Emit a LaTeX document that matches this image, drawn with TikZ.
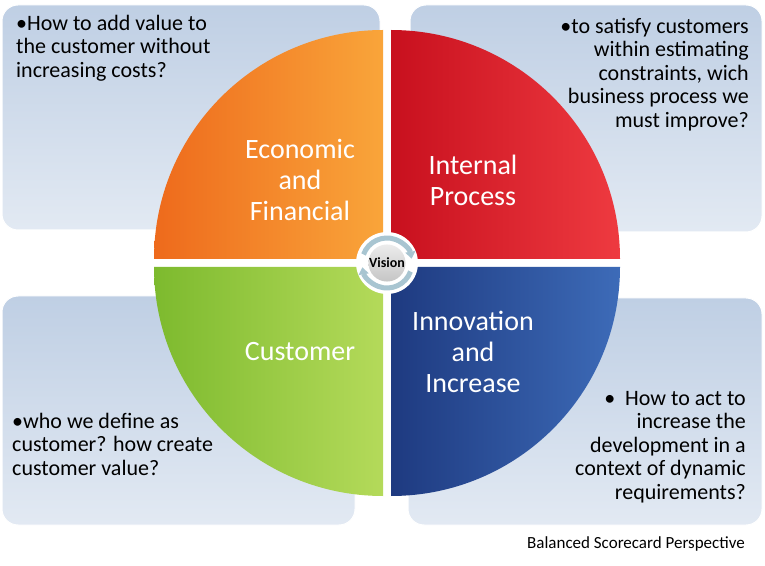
\documentclass[tikz,border=0pt]{standalone}
\usepackage{fontspec}
\setmainfont{Carlito}
\usetikzlibrary{arrows.meta}
\begin{document}
\begin{tikzpicture}[x=1pt,y=1pt,
  qbox/.style={rounded corners=16pt,top color=#1,bottom color=#1!45!white,draw=white,line width=1pt},
  qtxt/.style={font=\fontsize{22}{23.5}\selectfont,text=black,inner sep=0pt},
  qlab/.style={font=\fontsize{28}{31}\selectfont,text=white,align=center,inner sep=0pt}]
\definecolor{bx}{HTML}{BFCFE4}
\definecolor{o1}{HTML}{EE6A1C}\definecolor{o2}{HTML}{F9A53A}
\definecolor{r1}{HTML}{C8101E}\definecolor{r2}{HTML}{EE3A40}
\definecolor{g1}{HTML}{7DBA2E}\definecolor{g2}{HTML}{B4DA5A}
\definecolor{b1}{HTML}{1E3A80}\definecolor{b2}{HTML}{3D6BB8}
\useasboundingbox (0,0) rectangle (765,565);
\fill[white] (0,0) rectangle (765,565);
\path[qbox=bx] (2,560) rectangle (380,335);
\path[qbox=bx] (410,560) rectangle (762,333);
\path[qbox=bx] (2,269) rectangle (355,40);
\path[qbox=bx] (408,267) rectangle (762,40);
\path[left color=o1,right color=o2] (383,306) -- ++(180:229) arc[start angle=180,end angle=90,radius=229] -- cycle;
\path[left color=r1,right color=r2] (391,306) -- ++(90:229) arc[start angle=90,end angle=0,radius=229] -- cycle;
\path[left color=g1,right color=g2] (383,298) -- ++(270:229) arc[start angle=270,end angle=180,radius=229] -- cycle;
\path[left color=b1,right color=b2] (391,298) -- ++(0:229) arc[start angle=0,end angle=-90,radius=229] -- cycle;
\node[qlab] (ef) at (300,385) {Economic\\and\\Financial};
\node[qlab] (ip) at (473,385) {Internal\\Process};
\node[qlab] (cu) at (300,213) {Customer};
\node[qlab] (ii) at (473,213) {Innovation\\and\\Increase};
\node[qtxt,align=left,anchor=north west] (t1) at (16,550) {•How to add value to\\the customer without\\increasing costs?};
\node[qtxt,align=right,anchor=north east] (t2) at (749,547) {•to satisfy customers\\within estimating\\constraints, wich\\business process we\\must improve?};
\node[qtxt,align=left,anchor=north west] (t3) at (12,152) {•who we define as\\customer? how create\\customer value?};
\node[qtxt,align=right,anchor=north east] (t4) at (746,174) {•\ \ How to act to\\increase the\\development in a\\context of dynamic\\requirements?};
\node[font=\fontsize{17}{19}\selectfont,anchor=east,inner sep=0pt] (ft) at (745,21) {Balanced Scorecard Perspective};
\fill[white] (387,302) circle (31);
\draw[line width=5pt,cyan!35!gray!60,-{Triangle[length=7pt,width=10pt]}] (387,302) ++(160:25) arc[start angle=160,end angle=10,radius=25];
\draw[line width=5pt,cyan!35!gray!60,-{Triangle[length=7pt,width=10pt]}] (387,302) ++(-20:25) arc[start angle=-20,end angle=-170,radius=25];
\node[circle,minimum size=34pt,inner sep=0pt,top color=gray!15,bottom color=gray!45,font=\bfseries\fontsize{14}{15}\selectfont] (vi) at (387,302) {Vision};
\end{tikzpicture}
\end{document}
